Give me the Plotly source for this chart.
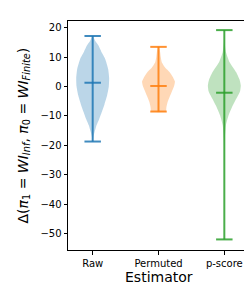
import plotly.graph_objects as go

categories = ["Raw", "Permuted", "p-score"]
positions = [1, 2, 3]
colors = ["31,119,180", "255,127,14", "44,160,44"]

# summary statistics
maxima = [17.2, 13.5, 19.2]
minima = [-18.7, -8.5, -52.0]
means = [1.3, 0.2, -2.1]

# density profiles (value levels and relative half widths)
raw_levels = [17.2, 15.5, 13.9, 11.5, 9.4, 6.0, 2.9, 0.0, -3.0, -6.0, -8.6, -11.0, -13.1, -15.4, -17.0, -18.7]
raw_hw = [0.0, 0.04, 0.09, 0.14, 0.19, 0.235, 0.25, 0.245, 0.22, 0.18, 0.14, 0.10, 0.06, 0.03, 0.012, 0.003]
perm_levels = [13.5, 11.7, 10.0, 8.3, 6.5, 4.9, 3.2, 1.7, 0.0, -1.85, -3.5, -5.2, -7.0, -8.5]
perm_hw = [0.01, 0.025, 0.035, 0.05, 0.10, 0.17, 0.22, 0.25, 0.235, 0.20, 0.17, 0.14, 0.12, 0.11]
ps_levels = [19.2, 15.0, 11.7, 8.3, 4.9, 2.5, 0.4, -1.5, -3.0, -6.4, -9.8, -13.1, -17.6, -22.0, -30.0, -40.0, -52.0]
ps_hw = [0.002, 0.006, 0.025, 0.08, 0.18, 0.23, 0.25, 0.24, 0.21, 0.13, 0.065, 0.025, 0.008, 0.003, 0.001, 0.0005, 0.0]

profiles = [(raw_levels, raw_hw), (perm_levels, perm_hw), (ps_levels, ps_hw)]

fig = go.Figure()
cap = 0.125
for pos, col, (lv, hw), mx, mn, me in zip(positions, colors, profiles, maxima, minima, means):
    xs = [pos + w for w in hw] + [pos - w for w in reversed(hw)]
    ys = list(lv) + list(reversed(lv))
    fig.add_trace(go.Scatter(x=xs, y=ys, fill="toself", mode="lines",
                             line=dict(width=0, shape="spline", smoothing=0.5),
                             fillcolor=f"rgba({col},0.3)", hoverinfo="skip", showlegend=False))
    lc = f"rgba({col},0.85)"
    fig.add_trace(go.Scatter(x=[pos, pos], y=[mn, mx], mode="lines",
                             line=dict(color=lc, width=2), showlegend=False))
    for v in (mx, mn, me):
        fig.add_trace(go.Scatter(x=[pos - cap, pos + cap], y=[v, v], mode="lines",
                                 line=dict(color=lc, width=2), showlegend=False))

fig.update_layout(
    width=252, height=288,
    margin=dict(l=60, r=11, t=13, b=46, autoexpand=False),
    plot_bgcolor="white", paper_bgcolor="white",
    font=dict(family="DejaVu Sans", size=10, color="black"),
    showlegend=False,
)
fig.update_xaxes(range=[0.625, 3.375], tickmode="array", tickvals=positions, ticktext=categories,
                 showgrid=False, zeroline=False, showline=True, mirror=True, linecolor="black",
                 linewidth=1, ticks="outside", ticklen=3.5, tickcolor="black", automargin=False)
fig.update_yaxes(range=[-55.6, 22.3], tickvals=[20, 10, 0, -10, -20, -30, -40, -50],
                 showgrid=False, zeroline=False, showline=True, mirror=True, linecolor="black",
                 linewidth=1, ticks="outside", ticklen=3.5, tickcolor="black", automargin=False)
fig.add_annotation(
    text="Δ(<i>π</i><sub>1</sub> = <i>WI</i><sub><i>Inf</i></sub>, <i>π</i><sub>0</sub> = <i>WI</i><sub><i>Finite</i></sub>)",
    xref="paper", yref="paper", x=(15 - 60) / 181, y=0.5, xanchor="center", yanchor="middle",
    textangle=-90, showarrow=False, font=dict(size=14))
fig.add_annotation(
    text="Estimator", xref="paper", yref="paper", x=0.5, y=-(269 - 242) / 229,
    xanchor="center", yanchor="middle", showarrow=False, font=dict(size=14))

fig.write_html("out.html")
